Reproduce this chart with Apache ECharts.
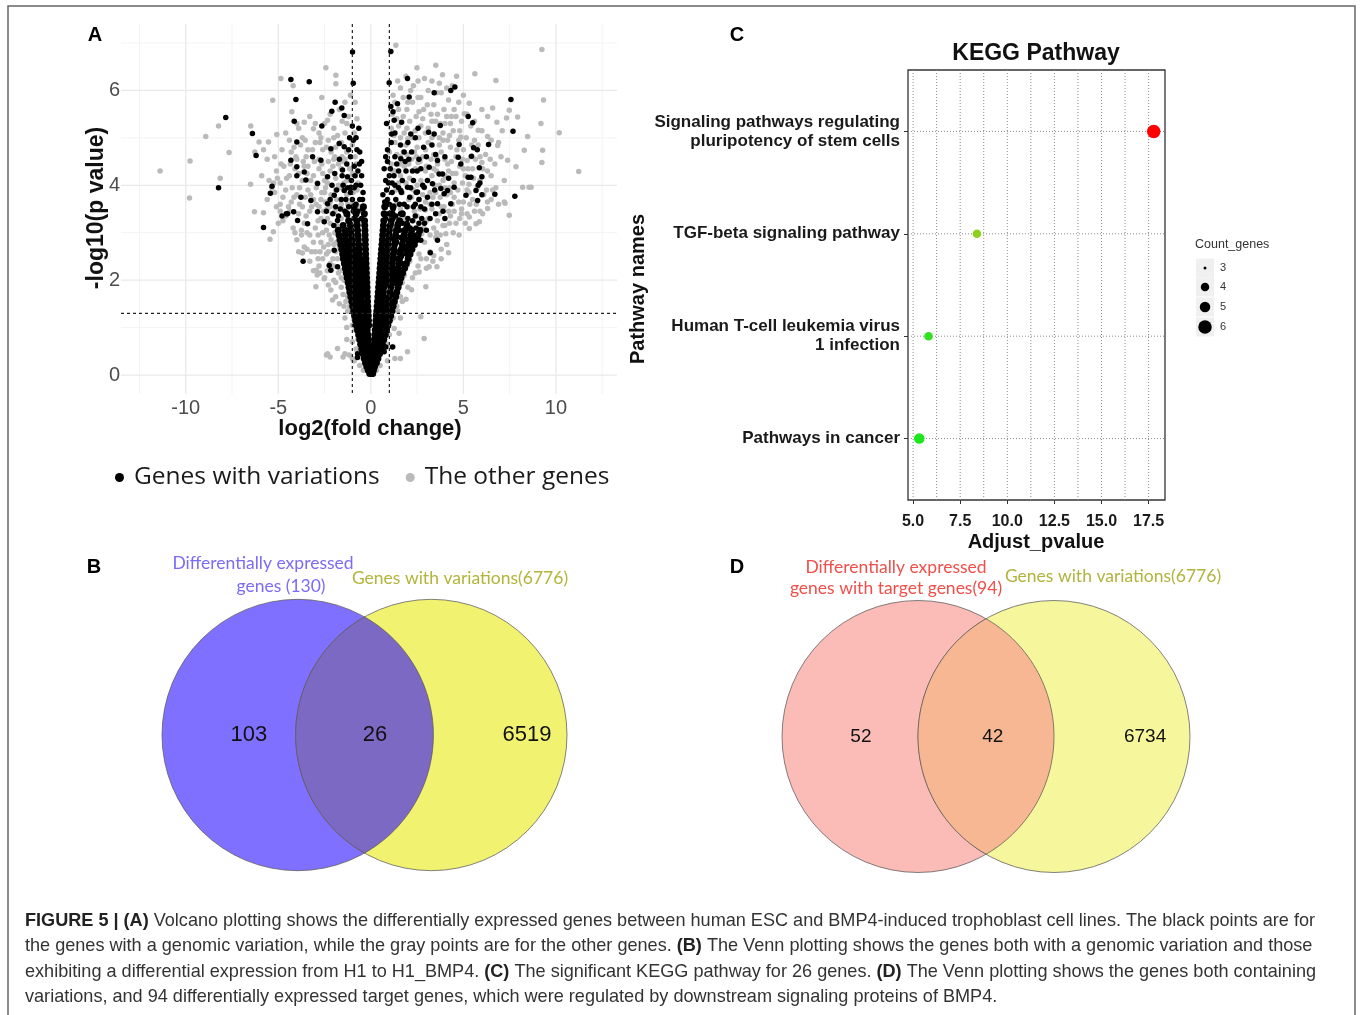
<!DOCTYPE html>
<html><head><meta charset="utf-8">
<script src="https://cdn.jsdelivr.net/npm/echarts@6.0.0/dist/echarts.min.js"></script>
<style>html,body{margin:0;padding:0;background:#fff}#chart{width:1360px;height:1015px}</style>
</head><body><div id="chart"></div>
<script>
// ---------------- Panel A : volcano plot ----------------
const volcanoXTicks = [-10, -5, 0, 5, 10];
const volcanoYTicks = [0, 2, 4, 6];
const volcanoXGridMajor = [-10, -5, 0, 5, 10];
const volcanoXGridMinor = [-12.5, -7.5, -2.5, 2.5, 7.5, 12.5];
const volcanoYGridMajor = [0, 2, 4, 6];
const volcanoYGridMinor = [1, 3, 5, 7];
const foldChangeCutoffs = [-1, 1];
const pValueCutoff = [1.3];

// gray points : "The other genes"  [log2FC, -log10 p]
const otherGenes = [
[-11.39,4.30],[-9.77,4.51],[-9.8,3.73],[-8.92,5.03],[-8.23,5.25],[-8.14,4.15],[-7.66,4.69],[-6.49,5.25],[-6.27,4.70],[-6.04,4.91],[-5.53,4.91],[-5.08,5.07],[-5.30,5.79],[-4.86,6.25],[-4.2,6.10],[-4.27,5.55],[-3.6,5.33],[-3.1,5.19],[-2.43,6.48],[-1.89,6.32],[-1.89,6.14],[-2.65,5.85],[-2.34,5.37],[-6.5,4.02],[-6.29,3.44],[-5.8,3.42],[-5.9,4.20],[-5.27,3.02],[-5.45,2.86],[-3.7,2.57],[-2.97,1.86],[-3.1,2.2],[-2.95,2.21],[-2.9,2.11],[-2.16,1.79],[-2.07,1.58],[-2.52,2.03],[-2.34,0.45],[-1.8,0.56],[-1.17,0.42],[-0.65,0.88],
[-4.6,5.1],[-3.9,5.2],[-3.3,5.45],[-2.8,5.1],[-2.2,5.5],[-1.7,5.6],[-1.4,5.75],[-1.1,5.9],[-2.0,5.2],[-1.3,5.3],[-4.4,4.95],
[-5.2,4.6],[-4.8,4.75],[-4.3,4.7],[-3.8,4.85],[-3.5,4.6],[-3.0,4.9],[-2.6,4.75],[-2.3,4.95],[-1.9,4.8],[-1.6,4.9],[-1.3,4.7],[-1.0,4.85],[-2.8,4.55],[-2.0,4.55],[-1.5,4.5],[-4.0,4.55],[-5.6,4.55],[-5.8,4.75],
[-5.5,4.1],[-5.1,4.3],[-4.7,4.4],[-4.4,4.2],[-4.1,4.35],[-3.7,4.1],[-3.4,4.4],[-3.1,4.2],[-2.8,4.35],[-2.5,4.1],[-2.2,4.3],[-1.9,4.15],[-1.6,4.35],[-1.3,4.1],[-1.0,4.25],[-0.8,4.45],[-4.9,4.05],[-3.9,4.25],[-2.65,4.45],[-1.75,4.45],[-0.7,4.05],
[-5.6,3.7],[-5.2,3.85],[-4.9,3.6],[-4.6,3.9],[-4.3,3.65],[-4.0,3.8],[-3.7,3.55],[-3.4,3.9],[-3.1,3.7],[-2.8,3.55],[-2.5,3.85],[-2.2,3.65],[-1.9,3.9],[-1.6,3.6],[-1.3,3.8],[-1.0,3.65],[-0.75,3.9],[-4.45,3.55],[-3.55,3.75],[-2.35,3.5],[-2.95,3.95],[-0.6,3.55],
[-5.0,3.2],[-4.6,3.35],[-4.2,3.1],[-3.9,3.4],[-3.6,3.2],[-3.3,3.45],[-3.0,3.1],[-2.7,3.3],[-2.4,3.05],[-2.1,3.4],[-1.85,3.15],[-4.9,3.45],[-3.45,3.0],[-2.55,3.45],[-1.6,3.3],[-0.6,3.2],[-0.5,3.45],
[-4.0,2.85],[-3.6,2.7],[-3.3,2.95],[-3.0,2.6],[-2.7,2.8],[-2.4,2.55],[-2.15,2.85],[-1.9,2.6],[-3.9,2.6],[-2.85,2.95],[-0.45,2.7],[-0.4,2.9],
[-3.3,2.4],[-2.8,2.3],[-2.5,2.05],[-2.2,2.35],[-1.75,2.15],[-1.55,2.45],[-2.0,2.0],[-2.6,2.45],
[-2.3,1.9],[-1.9,1.65],[-1.6,1.85],[-1.35,1.55],[-1.7,1.5],[-1.2,1.75],
[-1.4,1.2],[-1.15,1.45],[-1.0,1.05],[-1.3,1.0],[-0.95,1.3],
[-1.0,0.7],[-0.85,0.95],[-0.8,0.55],[-1.3,0.75],[-0.7,0.75],
[-2.4,0.42],[-2.2,0.38],[-1.5,0.38],[-1.4,0.45],[-0.9,0.3],[-0.6,0.2],[-0.4,0.1],[-0.3,0.35],[-1.0,0.35],
[-5.35,3.95],[-5.05,4.15],[-4.75,3.75],[-4.55,4.15],[-4.25,3.95],[-4.05,4.6],[-3.85,3.95],[-3.65,4.5],[-3.45,4.25],[-3.25,3.8],[-3.05,4.5],[-2.9,4.05],[-2.7,3.7],[-2.6,4.25],[-2.45,3.95],[-2.3,4.5],[-2.15,3.8],[-2.05,4.4],[-1.85,3.7],[-1.75,4.0],[-1.55,4.6],[-1.45,4.05],[-1.25,3.6],[-1.15,4.35],[-0.95,3.85],[-0.85,4.6],[-5.1,3.55],[-4.75,3.25],[-4.4,3.45],[-4.1,3.0],[-3.75,3.05],[-3.5,3.35],[-3.2,3.55],[-2.85,3.25],[-2.6,3.0],[-2.35,3.3],[-2.2,3.55],[-1.95,3.45],[-1.7,3.05],[-1.35,3.45],[-3.75,2.95],[-3.45,2.65],[-3.1,2.8],[-2.85,2.45],[-2.55,2.7],[-2.3,2.75],[-2.05,2.45],[-1.85,2.8],[-2.75,2.15],[-2.35,2.2],[-1.9,1.95],[-2.0,2.3],[-1.6,2.05],[-1.45,1.45],[-1.25,1.65],[-3.4,4.75],[-3.7,5.0],[-2.4,4.8],[-2.0,5.0],[-1.4,5.1],[-1.2,5.45],[-2.5,5.3],[-3.0,5.3],[-4.0,5.3],[-0.9,5.1],[-0.75,5.4],[-0.85,5.75],
[-1.25,1.35],[-1.5,1.7],[-1.45,2.0],[-1.65,2.2],[-1.8,2.45],[-2.0,2.75],[-2.3,2.6],[-1.95,3.0],[-2.2,3.2],
[-4.15,4.8],[-3.55,4.95],[-3.15,4.75],[-2.75,4.9],[-2.15,4.7],[-1.8,5.05],[-1.55,5.35],[-2.7,5.0],[-3.25,4.1],[-2.95,3.6],[-2.35,4.05],[-1.95,4.6],[-1.6,3.95],[-1.4,4.55],[-3.85,3.6],[-4.15,3.75],[-4.35,4.45],[-4.85,4.45],[-5.25,4.05],[-3.6,4.4],[-2.65,3.85],[-2.25,2.95],[-2.45,3.65],[-1.7,2.7],[-3.2,2.6],[-2.75,2.6],[-1.4,2.9],[-1.55,3.5],
[1.35,6.95],[2.49,6.48],[3.51,6.53],[3.87,6.33],[4.63,6.30],[5.62,6.35],[6.76,6.21],[9.24,6.86],[9.33,5.80],[10.18,5.11],[11.23,4.29],[9.28,4.74],[9.24,4.48],[9.19,5.30],[8.66,3.96],[8.2,3.96],[8.47,5.03],[8.29,4.74],[7.93,5.44],[7.48,5.58],[7.33,5.42],[6.81,5.33],[6.31,5.45],[6.58,5.63],[5.80,5.16],[5.32,5.73],[5.05,5.51],[4.86,5.02],[6.31,5.03],[6.85,4.84],[7.03,4.60],[7.84,4.39],[7.39,4.53],[7.21,4.10],[6.58,3.90],[7.21,3.65],[7.48,3.37],[6.31,3.51],[6.04,3.40],[5.32,3.33],[7.25,3.62],[8.55,3.96],[5.86,3.23],[5.68,3.19],[5.32,3.09],[4.77,2.95],[4.05,2.98],[4.2,2.58],[3.57,2.28],[3.15,2.28],[2.97,1.86],[2.61,2.17],[2.7,1.23],[2.88,0.77],[1.98,0.49],[1.53,0.88],[1.26,0.98],
[1.2,5.9],[1.6,6.05],[2.0,5.75],[2.3,6.1],[2.7,5.85],[3.1,6.0],[3.4,5.7],[3.8,5.95],[4.2,5.8],[1.5,5.6],[2.6,5.55],[3.6,5.5],[4.5,5.6],[1.9,6.3],[2.9,6.25],
[1.1,5.2],[1.4,5.4],[1.8,5.1],[2.1,5.35],[2.4,5.15],[2.8,5.4],[3.1,5.2],[3.5,5.35],[3.9,5.1],[4.3,5.3],[4.6,5.45],[1.6,5.0],[2.6,5.0],[3.3,5.0],[4.1,5.45],[4.8,5.15],[5.4,5.25],
[1.0,4.7],[1.3,4.9],[1.6,4.6],[1.9,4.85],[2.2,4.55],[2.5,4.8],[2.8,4.6],[3.1,4.9],[3.4,4.65],[3.7,4.85],[4.0,4.55],[4.3,4.8],[4.6,4.6],[5.0,4.75],[5.4,4.6],[5.8,4.85],[6.2,4.65],[2.0,4.98],[2.95,4.75],[3.9,4.95],[4.75,4.95],[5.2,4.52],
[1.2,4.3],[1.5,4.05],[1.8,4.4],[2.1,4.15],[2.4,4.35],[2.7,4.1],[3.0,4.4],[3.3,4.2],[3.6,4.45],[3.9,4.1],[4.2,4.3],[4.5,4.05],[4.8,4.4],[5.1,4.2],[5.5,4.35],[5.9,4.1],[6.3,4.3],[6.7,4.45],[2.55,4.48],[3.45,4.0],[4.35,4.5],[5.3,4.02],[6.0,4.48],
[1.4,3.6],[1.7,3.85],[2.0,3.55],[2.3,3.9],[2.6,3.7],[2.9,3.95],[3.2,3.6],[3.5,3.85],[3.8,3.55],[4.1,3.8],[4.4,3.6],[4.7,3.9],[5.0,3.65],[5.3,3.85],[5.7,3.6],[6.1,3.8],[6.5,3.7],[3.35,3.75],[4.25,3.95],[4.9,3.5],
[2.2,3.1],[2.5,3.35],[2.8,3.05],[3.1,3.3],[3.4,3.1],[3.7,3.4],[4.0,3.15],[4.3,3.35],[4.6,3.2],[4.9,3.4],[5.6,3.45],[3.55,3.0],[4.45,3.0],[2.95,3.48],
[2.0,2.6],[2.3,2.85],[2.6,2.55],[2.9,2.8],[3.2,2.6],[3.5,2.9],[3.8,2.65],[3.4,2.52],[2.75,2.98],
[1.8,2.1],[2.1,2.4],[2.4,2.15],[2.7,2.45],[1.95,2.3],[3.0,2.45],
[1.45,1.7],[1.7,1.95],[1.9,1.6],[1.55,1.9],[2.2,1.8],
[1.2,1.2],[1.4,1.45],[1.1,1.4],[1.6,1.2],
[0.9,0.65],[1.0,0.85],[0.7,0.5],[1.2,0.6],
[0.5,0.2],[0.9,0.3],[1.3,0.35],[1.6,0.35],[0.3,0.1],[0.2,0.3],
[1.15,5.5],[1.3,5.75],[1.75,5.45],[1.95,5.6],[2.25,5.75],[2.45,5.45],[2.85,5.6],[3.25,5.5],[3.55,5.95],[3.95,5.6],[4.35,5.45],[4.1,6.05],[5.0,5.9],[5.2,5.5],[5.6,5.35],[6.0,5.6],[1.25,5.05],[1.5,5.25],[1.95,5.2],[2.25,5.0],[2.7,5.25],[2.95,5.1],[3.3,5.35],[3.7,5.0],[4.0,5.3],[4.45,5.15],[4.9,5.35],[5.15,5.0],[5.6,4.95],[6.0,5.15],[6.5,4.95],[1.1,4.45],[1.4,4.65],[1.75,4.7],[2.05,4.45],[2.35,4.7],[2.65,4.5],[2.95,4.3],[3.25,4.55],[3.55,4.3],[3.8,4.7],[4.15,4.45],[4.4,4.25],[4.65,4.75],[4.95,4.55],[5.25,4.35],[5.65,4.55],[6.05,4.35],[6.45,4.55],[1.35,3.9],[1.6,4.2],[1.9,4.05],[2.2,3.75],[2.5,4.0],[2.8,3.8],[3.05,4.1],[3.4,4.35],[3.7,4.0],[4.0,4.2],[4.3,3.85],[4.6,4.25],[4.95,4.05],[5.35,3.6],[5.75,3.95],[6.25,3.9],[1.6,3.5],[1.85,3.3],[2.05,3.7],[2.35,3.45],[2.65,3.5],[3.0,3.25],[3.3,3.5],[3.6,3.25],[3.95,3.55],[4.2,3.45],[4.5,3.75],[4.8,3.3],[5.1,3.2],[5.5,3.7],[5.9,3.45],[2.45,2.95],[2.85,3.1],[3.2,2.95],[3.75,2.95],[4.1,2.75],[3.0,2.25],[2.55,2.3],[2.25,2.05],[2.0,1.85],[1.7,1.55],[1.45,1.35],[3.35,2.4],[3.8,2.45],
[1.3,1.55],[1.6,1.65],[1.75,2.25],[2.0,2.5],[2.25,2.65],[2.5,2.85],[2.2,2.95],
[1.45,6.2],[2.15,6.0],[2.55,6.2],[3.3,6.2],[3.7,6.15],[4.4,6.1],[4.75,5.75],[3.05,5.7],[1.75,5.85],[2.55,5.85],[3.75,5.3],[4.25,5.05],[5.45,4.85],[5.9,4.6],[6.5,4.2],[6.9,4.9],[7.1,5.15],[6.75,3.95],[6.9,3.6],[4.5,3.45],[4.75,3.65],[5.2,3.9],[5.55,4.15],[5.0,4.35],[4.15,4.95],[3.55,4.6],[2.45,4.6],[1.95,4.65],[1.3,4.3],[1.55,4.45],[2.95,3.65],[3.2,3.85],[3.75,3.75],[4.0,3.95],[2.3,3.25],[2.6,3.0],[3.9,3.15],[4.25,3.2],[5.2,3.4],[6.3,3.65]
];

// black points scattered outside the dense V : "Genes with variations"
const variationGenes = [
[-7.84,5.43],[-8.23,3.95],[-6.40,5.09],[-6.2,4.63],[-4.32,6.23],[-3.33,6.18],[-4.05,5.81],[-4.14,5.35],[-4.0,4.91],[-1.93,5.75],[-2.11,5.56],[-1.57,5.63],[-1.44,5.47],[-2.65,5.25],[-0.99,6.81],[-0.95,6.15],[-5.8,3.11],[-5.43,3.83],[-5.34,3.98],[-4.8,3.35],[-4.57,3.4],[-4.17,3.44],[-3.66,2.40],[-2.16,2.21],[-2.25,2.31],[-1.98,2.63],[-1.8,2.28],[-0.72,0.45],[-0.72,0.37],
[-4.32,4.53],[-4.0,4.39],[-4.0,4.20],[-3.6,4.28],[-3.15,4.6],[-2.7,4.53],[-2.16,4.77],[-1.71,4.88],[-1.44,4.81],[-3.51,4.11],[-2.88,4.04],[-2.34,4.18],[-1.95,4.25],[-1.53,4.32],[-1.26,4.18],[-3.78,3.75],[-3.24,3.68],[-2.88,3.44],[-2.34,3.61],[-1.98,3.79],[-1.44,3.89],[-1.08,3.96],[-4.5,3.40],[-3.96,3.26],[-3.42,3.19],[-2.52,3.23],[-1.8,3.26],[-1.26,3.37],
[-1.1,4.6],[-0.9,4.4],[-1.3,4.45],[-0.8,4.0],[-1.0,3.7],[-1.2,3.55],[-0.7,3.45],[-0.9,3.3],[-1.5,3.15],[-0.6,3.7],[-1.65,3.5],[-2.05,3.4],[-0.8,5.0],[-1.0,5.25],[-0.75,4.75],[-1.15,5.0],[-1.7,4.55],[-2.1,4.0],
[-0.45,3.7],[-0.55,4.0],[-0.7,4.3],[-0.5,3.3],[-1.15,3.25],[-1.35,3.7],[-1.5,4.0],[-1.9,3.55],[-0.6,4.7],[-0.9,3.95],[-1.05,4.1],
[-0.42,3.85],[-0.5,4.2],[-0.62,4.45],[-0.8,3.6],[-0.95,3.45],[-1.1,3.85],[-1.25,3.95],[-1.4,3.45],[-1.6,3.7],[-1.75,3.35],[-1.85,3.9],[-2.2,3.7],[-2.4,3.45],[-2.0,3.15],[-1.3,3.05],[-0.85,4.2],[-1.2,4.75],[-1.55,4.2],[-0.65,5.2],[-0.95,4.95],[-0.5,4.5],[-0.45,3.5],
[1.08,6.82],[0.99,6.16],[1.98,6.25],[3.42,5.95],[4.32,6.0],[4.54,6.07],[2.07,5.86],[1.44,5.72],[1.08,5.66],[1.26,5.37],[1.66,5.33],[2.16,5.08],[1.12,5.08],[3.12,5.12],[3.75,5.26],[3.42,5.08],[5.26,5.45],[5.5,5.32],[7.57,5.81],[7.68,5.14],[6.36,4.86],[4.77,4.86],[5.55,4.79],[5.44,4.61],[5.86,4.37],[6.70,3.81],[7.78,3.77],[5.77,3.68],[5.68,3.89],[5.14,3.79],[5.89,4.05],[5.41,4.17],[5.26,4.17],[4.86,4.45],[4.72,4.59],[3.87,4.24],[3.69,4.24],[3.5,4.65],[3.6,4.52],[3.15,4.38],[2.7,4.35],[1.62,4.56],[1.8,4.7],[3.06,4.1],[3.33,4.03],[3.78,3.93],[4.14,3.89],[4.5,3.96],[2.88,3.96],[2.52,3.86],[1.98,3.96],[1.62,3.89],[3.06,3.75],[3.6,3.61],[4.32,3.61],[3.96,3.82],[3.21,2.58],[3.6,2.84],[2.7,2.84],[2.34,2.91],[1.17,0.59],[0.81,0.59],[0.72,0.49],
[5.75,4.75],[5.8,4.0],[6.0,3.8],[6.0,4.18],
[1.0,4.2],[1.3,4.0],[0.9,3.7],[1.2,3.5],[1.6,3.4],[2.0,3.3],[2.3,3.55],[1.45,3.2],[0.8,3.3],[2.6,3.2],[1.1,4.9],[1.3,5.1],[0.9,4.5],[2.2,4.7],[2.5,4.3],[1.9,4.3],[2.4,5.0],[2.8,4.0],[3.2,3.3],[2.9,3.5],[4.0,3.3],[3.5,3.4],
[0.75,3.65],[0.85,3.9],[1.0,3.6],[1.15,3.85],[1.35,3.7],[1.5,3.95],[1.8,3.6],[2.1,3.75],[2.4,3.6],[0.8,4.1],[1.05,4.35],[1.25,4.2],[1.5,4.3],[1.7,4.1],[2.05,4.55],[2.3,4.1],[0.9,4.75],[1.3,4.6],[2.6,3.7],[1.2,3.3],[1.7,3.2],[2.1,3.1],[2.75,3.3],[3.0,3.05],[2.4,3.35],
[0.7,3.4],[0.65,3.8],[0.72,4.35],[0.8,4.6],[0.95,3.4],[1.1,3.2],[1.35,3.35],[1.55,3.6],[1.65,3.85],[1.95,3.55],[2.15,3.95],[2.45,3.85],[2.7,3.55],[2.9,3.2],[3.3,3.6],[3.45,3.9],[1.4,4.45],[1.85,4.5],[2.25,4.3],[2.6,4.55],[3.0,4.6],[1.15,4.05],[0.95,4.05],[1.6,4.85],[2.0,4.9],[1.2,5.55],[0.85,5.3],[2.55,5.2],[2.85,4.8],[3.3,4.85],[4.0,4.6],[4.2,4.15],[3.9,3.45],
[1.5,2.6],[1.8,2.7],[2.0,2.85],[2.3,2.95],[1.6,2.9],[1.95,3.2],[2.45,3.1],[1.35,2.45],[1.7,2.35],[1.55,2.15],[1.3,1.95],[1.9,2.55],[2.3,2.75],[2.6,3.0],[1.15,1.7],[1.45,2.0],[1.25,2.25],[1.65,2.5],[2.1,2.65],[1.4,2.8],[1.8,3.0],[2.25,3.25],[1.55,3.05],[1.05,2.9],[0.85,2.6],[1.0,2.3],[0.8,1.9]
];

// dense black V : each row = [-log10 p, log2FC, log2FC, ...]
const variationDenseRows = [
[0.03,-0.06,0.03,0.1],
[0.1,-0.14,-0.04,0.05,0.14],
[0.18,-0.22,-0.11,0,0.1,0.2],
[0.26,-0.29,-0.15,-0.03,0.1,0.22,0.3],
[0.35,-0.36,-0.2,-0.06,0.12,0.25,0.38],
[0.45,-0.42,-0.26,-0.08,0.14,0.3,0.47],
[0.55,-0.49,-0.3,-0.1,0.16,0.36,0.55],
[0.65,-0.55,-0.35,-0.12,0.18,0.4,0.62],
[0.75,-0.6,-0.38,-0.14,0.2,0.44,0.7],
[0.85,-0.66,-0.42,-0.16,0.22,0.48,0.78],
[0.95,-0.72,-0.46,-0.2,0.24,0.52,0.85],
[1.05,-0.78,-0.52,-0.3,-0.12,0.26,0.5,0.72,0.92],
[1.15,-0.83,-0.56,-0.32,-0.13,0.28,0.52,0.76,1.0],
[1.25,-0.88,-0.62,-0.37,-0.14,0.3,0.55,0.8,1.07],
[1.35,-0.93,-0.68,-0.42,-0.15,0.32,0.58,0.86,1.14],
[1.45,-0.98,-0.72,-0.45,-0.17,0.34,0.6,0.9,1.2],
[1.55,-1.03,-0.76,-0.49,-0.18,0.36,0.62,0.94,1.27],
[1.65,-1.08,-0.8,-0.52,-0.19,0.38,0.66,0.99,1.34],
[1.75,-1.13,-0.86,-0.58,-0.33,-0.2,0.4,0.68,1.04,1.4],
[1.85,-1.18,-0.9,-0.62,-0.35,-0.21,0.42,0.7,1.08,1.47],
[1.95,-1.23,-0.95,-0.66,-0.4,-0.22,0.44,0.74,1.0,1.27,1.55],
[2.05,-1.28,-1.0,-0.7,-0.44,-0.23,0.46,0.76,1.05,1.34,1.63],
[2.15,-1.33,-1.05,-0.76,-0.48,-0.24,0.48,0.79,1.1,1.4,1.72],
[2.25,-1.38,-1.1,-0.8,-0.52,-0.25,0.5,0.8,1.12,1.46,1.82],
[2.35,-1.43,-1.14,-0.84,-0.54,-0.26,0.52,0.82,1.15,1.5,1.92],
[2.45,-1.48,-1.18,-0.88,-0.58,-0.27,0.54,0.85,1.18,1.55,2.02],
[2.55,-1.52,-1.22,-0.92,-0.62,-0.28,0.56,0.88,1.22,1.6,2.12],
[2.65,-1.57,-1.26,-0.96,-0.64,-0.29,0.58,0.9,1.25,1.65,1.95,2.22],
[2.75,-1.62,-1.3,-1.0,-0.66,-0.3,0.6,0.92,1.28,1.7,2.05,2.35],
[2.85,-1.67,-1.35,-1.02,-0.68,-0.3,0.62,0.95,1.3,1.75,2.1,2.45],
[2.95,-1.72,-1.38,-1.05,-0.7,-0.31,0.64,0.98,1.34,1.8,2.15,2.55],
[3.05,-1.76,-1.4,-1.08,-0.72,-0.32,0.66,1.0,1.38,1.85,2.2,2.65],
[3.15,-1.5,-1.1,-0.74,-0.33,0.68,1.05,1.45,1.95],
[3.25,-1.2,-0.76,-0.34,0.7,1.1,1.55],
[3.4,-1.3,-0.8,-0.35,0.72,1.15,1.7],
[3.55,-0.9,-0.4,0.75,1.2]
];

// ---------------- Panel C : KEGG pathway ----------------
const pathwayNames = ['Pathways in cancer', 'Human T-cell leukemia virus\n1 infection', 'TGF-beta signaling pathway', 'Signaling pathways regulating\npluripotency of stem cells'];
const adjustPvalue = [5.33, 5.82, 8.39, 17.77];
const countGenes = [5, 4, 4, 6];
const keggXTicks = [5, 7.5, 10, 12.5, 15, 17.5];
const keggXGrid = [5, 6.25, 7.5, 8.75, 10, 11.25, 12.5, 13.75, 15, 16.25, 17.5];
const countLegendValues = [3, 4, 5, 6];

// ---------------- Panels B and D : Venn ----------------
const vennBTitles = ['Differentially expressed', 'genes (130)', 'Genes with variations(6776)'];
const vennBCounts = [103, 26, 6519];
const vennDTitles = ['Differentially expressed', 'genes with target genes(94)', 'Genes with variations(6776)'];
const vennDCounts = [52, 42, 6734];

const captionLines = [
 '{b|FIGURE 5 | (A)} Volcano plotting shows the differentially expressed genes between human ESC and BMP4-induced trophoblast cell lines. The black points are for',
 'the genes with a genomic variation, while the gray points are for the other genes. {b|(B)} The Venn plotting shows the genes both with a genomic variation and those',
 'exhibiting a differential expression from H1 to H1_BMP4. {b|(C)} The significant KEGG pathway for 26 genes. {b|(D)} The Venn plotting shows the genes both containing',
 'variations, and 94 differentially expressed target genes, which were regulated by downstream signaling proteins of BMP4.'
];

// ================= build =================
const FONT = '"Liberation Sans", Arial, sans-serif';
const densePoints = [];
variationDenseRows.forEach(r => { for (let i = 1; i < r.length; i++) densePoints.push([r[i], r[0]]); });

const sizeByCount = {3: 3, 4: 8.5, 5: 10.5, 6: 13.5};

function guide(gi, vertical, values, other, style, z) {
  return {
    type: 'custom', xAxisIndex: gi, yAxisIndex: gi, silent: true, z: z, clip: false,
    data: values.map(v => [v]),
    renderItem: function (params, api) {
      const cs = params.coordSys;
      const v = api.value(0);
      if (vertical) {
        const p = api.coord([v, other]);
        return {type: 'line', shape: {x1: p[0], y1: cs.y, x2: p[0], y2: cs.y + cs.height}, style: style};
      }
      const p = api.coord([other, v]);
      return {type: 'line', shape: {x1: cs.x, y1: p[1], x2: cs.x + cs.width, y2: p[1]}, style: style};
    }
  };
}

function venn(gi, counts, d, colors, labelX, fontSize) {
  return {
    type: 'custom', xAxisIndex: gi, yAxisIndex: gi, silent: true, clip: false, z: 2,
    data: counts.map((c, i) => [i, c]),
    renderItem: function (params, api) {
      const i = api.value(0);
      const c1 = api.coord([0, 0]);
      const c2 = api.coord([d, 0]);
      const r = api.size([1, 1])[0];
      const lp = api.coord([labelX[i], 0]);
      const stroke = {stroke: 'rgba(90,90,90,0.75)', lineWidth: 1};
      const children = [];
      if (i === 0) {
        children.push({type: 'circle', z2: 1, shape: {cx: c1[0], cy: c1[1], r: r}, style: Object.assign({fill: colors[0]}, stroke)});
      } else if (i === 2) {
        children.push({type: 'circle', z2: 2, shape: {cx: c2[0], cy: c2[1], r: r}, style: Object.assign({fill: colors[2]}, stroke)});
      } else {
        const dd = c2[0] - c1[0];
        const th = Math.acos(dd / 2 / r);
        const pts = [];
        const n = 60;
        for (let k = 0; k <= n; k++) { const t = -th + 2 * th * k / n; pts.push([c1[0] + r * Math.cos(t), c1[1] + r * Math.sin(t)]); }
        for (let k = 0; k <= n; k++) { const t = Math.PI - th + 2 * th * k / n; pts.push([c2[0] + r * Math.cos(t), c2[1] + r * Math.sin(t)]); }
        children.push({type: 'polygon', z2: 3, shape: {points: pts}, style: Object.assign({fill: colors[1]}, stroke)});
      }
      children.push({type: 'text', z2: 5, x: lp[0], y: lp[1], style: {text: String(api.value(1)), fill: '#111', fontSize: fontSize, fontFamily: FONT, align: 'center', verticalAlign: 'middle'}});
      return {type: 'group', children: children};
    }
  };
}

const series = [];
series.push(guide(0, true, volcanoXGridMinor, 0, {stroke: '#f3f3f3', lineWidth: 1}, 0));
series.push(guide(0, false, volcanoYGridMinor, 0, {stroke: '#f3f3f3', lineWidth: 1}, 0));
series.push(guide(0, true, volcanoXGridMajor, 0, {stroke: '#e9e9e9', lineWidth: 1.3}, 0));
series.push(guide(0, false, volcanoYGridMajor, 0, {stroke: '#e9e9e9', lineWidth: 1.3}, 0));
series.push({name: 'The other genes', type: 'scatter', xAxisIndex: 0, yAxisIndex: 0, data: otherGenes, symbolSize: 5.5, itemStyle: {color: '#bababa', opacity: 1}, z: 2, silent: true});
series.push({name: 'Genes with variations', type: 'scatter', xAxisIndex: 0, yAxisIndex: 0, data: densePoints, symbolSize: 7, itemStyle: {color: '#000', opacity: 1}, z: 3, silent: true});
series.push({name: 'Genes with variations', type: 'scatter', xAxisIndex: 0, yAxisIndex: 0, data: variationGenes, symbolSize: 5.5, itemStyle: {color: '#000', opacity: 1}, z: 3, silent: true});
series.push(guide(0, true, foldChangeCutoffs, 0, {stroke: '#222', lineWidth: 1.2, lineDash: [3, 3]}, 4));
series.push(guide(0, false, pValueCutoff, 0, {stroke: '#222', lineWidth: 1.2, lineDash: [3, 3]}, 4));

series.push(guide(1, true, keggXGrid, 1, {stroke: '#8a8a8a', lineWidth: 1, lineDash: [1, 2]}, 1));
series.push(guide(1, false, pathwayNames.map((_, i) => i + 1), 10, {stroke: '#8a8a8a', lineWidth: 1, lineDash: [1, 2]}, 1));
const keggIndex = series.length;
series.push({
  name: 'KEGG', type: 'scatter', xAxisIndex: 1, yAxisIndex: 1, z: 3, silent: true,
  itemStyle: {opacity: 1},
  data: pathwayNames.map((n, i) => [adjustPvalue[i], i + 1, countGenes[i]]),
  symbolSize: d => sizeByCount[d[2]]
});

series.push(venn(2, vennBCounts, 0.985, ['#8070ff', '#7c69c3', '#f2f271'], [-0.36, 0.57, 1.69], 22));
series.push(venn(3, vennDCounts, 1.0, ['#fbbcb8', '#f8b793', '#f6f69d'], [-0.42, 0.55, 1.67], 19));

const VT = '17.5px Lato, sans-serif';
const graphic = [
  {type: 'rect', silent: true, shape: {x: 8, y: 6, width: 1347, height: 1030}, style: {fill: 'none', stroke: '#666', lineWidth: 1.5}},
  {type: 'text', x: 95, y: 35, style: {text: 'A', font: 'bold 20px ' + FONT, fill: '#000', align: 'center', verticalAlign: 'middle'}},
  {type: 'text', x: 94, y: 567, style: {text: 'B', font: 'bold 20px ' + FONT, fill: '#000', align: 'center', verticalAlign: 'middle'}},
  {type: 'text', x: 737, y: 35, style: {text: 'C', font: 'bold 20px ' + FONT, fill: '#000', align: 'center', verticalAlign: 'middle'}},
  {type: 'text', x: 737, y: 567, style: {text: 'D', font: 'bold 20px ' + FONT, fill: '#000', align: 'center', verticalAlign: 'middle'}},
  {type: 'text', x: 370, y: 429, style: {text: 'log2(fold change)', font: 'bold 22px ' + FONT, fill: '#111', align: 'center', verticalAlign: 'middle'}},
  {type: 'text', x: 97, y: 208, rotation: Math.PI / 2, style: {text: '-log10(p value)', font: 'bold 23px ' + FONT, fill: '#111', align: 'center', verticalAlign: 'middle'}},
  {type: 'text', x: 1036, y: 54, style: {text: 'KEGG Pathway', font: 'bold 23px ' + FONT, fill: '#111', align: 'center', verticalAlign: 'middle'}},
  {type: 'text', x: 1036, y: 542, style: {text: 'Adjust_pvalue', font: 'bold 20px ' + FONT, fill: '#111', align: 'center', verticalAlign: 'middle'}},
  {type: 'text', x: 638, y: 289, rotation: Math.PI / 2, style: {text: 'Pathway names', font: 'bold 20px ' + FONT, fill: '#111', align: 'center', verticalAlign: 'middle'}},
  {type: 'text', x: 1195, y: 245, style: {text: 'Count_genes', font: '12.5px ' + FONT, fill: '#333', align: 'left', verticalAlign: 'middle'}},
  {type: 'text', x: 263, y: 563, style: {text: vennBTitles[0], font: VT, fill: '#7b6cf6', align: 'center', verticalAlign: 'middle'}},
  {type: 'text', x: 281, y: 586, style: {text: vennBTitles[1], font: VT, fill: '#7b6cf6', align: 'center', verticalAlign: 'middle'}},
  {type: 'text', x: 460, y: 578, style: {text: vennBTitles[2], font: VT, fill: '#b3b53a', align: 'center', verticalAlign: 'middle'}},
  {type: 'text', x: 896, y: 567, style: {text: vennDTitles[0], font: VT, fill: '#f04f4a', align: 'center', verticalAlign: 'middle'}},
  {type: 'text', x: 896, y: 588, style: {text: vennDTitles[1], font: VT, fill: '#f04f4a', align: 'center', verticalAlign: 'middle'}},
  {type: 'text', x: 1113, y: 576, style: {text: vennDTitles[2], font: VT, fill: '#b0b33e', align: 'center', verticalAlign: 'middle'}}
];
const legendRowY = [268, 287, 307, 327];
countLegendValues.forEach((v, i) => {
  graphic.push({type: 'rect', silent: true, shape: {x: 1196, y: legendRowY[i] - 9.5, width: 18, height: 19}, style: {fill: '#f0f0f0'}});
  graphic.push({type: 'circle', silent: true, shape: {cx: 1205, cy: legendRowY[i], r: sizeByCount[v] / 2}, style: {fill: '#000'}});
  graphic.push({type: 'text', x: 1220, y: legendRowY[i], style: {text: String(v), font: '11px ' + FONT, fill: '#333', verticalAlign: 'middle'}});
});
const captionY = [921, 946, 972, 997];
captionLines.forEach((t, i) => {
  graphic.push({type: 'text', x: 25, y: captionY[i], style: {
    text: t, fontSize: 18.1, fontFamily: FONT, fill: '#333', verticalAlign: 'middle',
    rich: {b: {fontSize: 18.1, fontFamily: FONT, fontWeight: 'bold', fill: '#222'}}
  }});
});

const chart = echarts.init(document.getElementById('chart'), null, {renderer: 'canvas'});
chart.setOption({
  backgroundColor: '#fff',
  animation: false,
  textStyle: {fontFamily: FONT},
  grid: [
    {left: 121, top: 24, width: 496, height: 370},
    {left: 908, top: 70, width: 257, height: 430, show: true, borderColor: '#333', borderWidth: 1.3, backgroundColor: 'transparent'},
    {left: 162, top: 600, width: 405, height: 270},
    {left: 782, top: 601, width: 408, height: 271}
  ],
  xAxis: [
    {type: 'value', gridIndex: 0, min: -13.5, max: 13.3, axisLine: {show: false}, axisTick: {show: false}, splitLine: {show: false},
     axisLabel: {customValues: volcanoXTicks, fontSize: 20, color: '#4d4d4d', margin: 4}},
    {type: 'value', gridIndex: 1, min: 4.73, max: 18.37, axisLine: {show: false}, splitLine: {show: false},
     axisTick: {show: true, customValues: keggXTicks, length: 4, lineStyle: {color: '#333'}},
     axisLabel: {customValues: keggXTicks, formatter: v => v.toFixed(1), fontSize: 16, fontWeight: 'bold', color: '#1a1a1a', margin: 14}},
    {type: 'value', gridIndex: 2, min: -1, max: 1.985, show: false},
    {type: 'value', gridIndex: 3, min: -1, max: 2.0, show: false}
  ],
  yAxis: [
    {type: 'value', gridIndex: 0, min: -0.4, max: 7.4, axisLine: {show: false}, axisTick: {show: false}, splitLine: {show: false},
     axisLabel: {customValues: volcanoYTicks, fontSize: 20, color: '#4d4d4d', margin: 1}},
    {type: 'value', gridIndex: 1, min: 0.4, max: 4.6, axisLine: {show: false}, splitLine: {show: false},
     axisTick: {show: true, customValues: pathwayNames.map((_, i) => i + 1), length: 4, lineStyle: {color: '#333'}},
     axisLabel: {customValues: pathwayNames.map((_, i) => i + 1), formatter: v => pathwayNames[Math.round(v) - 1] || '', fontSize: 17, fontWeight: 'bold', color: '#1a1a1a', lineHeight: 19, margin: 8, align: 'right'}},
    {type: 'value', gridIndex: 2, min: -1, max: 1, show: false},
    {type: 'value', gridIndex: 3, min: -1, max: 1, show: false}
  ],
  legend: {
    data: ['Genes with variations', 'The other genes'], left: 110, top: 460, icon: 'circle', itemWidth: 9, itemHeight: 9, itemGap: 26,
    selectedMode: false, textStyle: {fontFamily: '"Open Sans", sans-serif', fontSize: 24.5, color: '#1a1a1a', padding: [0, 0, 0, 5]}
  },
  visualMap: {
    type: 'continuous', show: false, seriesIndex: keggIndex, dimension: 0,
    min: Math.min(...adjustPvalue), max: Math.max(...adjustPvalue),
    inRange: {color: ['#1ee61e', '#8fd11c', '#c9b800', '#f07a00', '#ff0000']}
  },
  series: series,
  graphic: graphic
});
</script></body></html>
